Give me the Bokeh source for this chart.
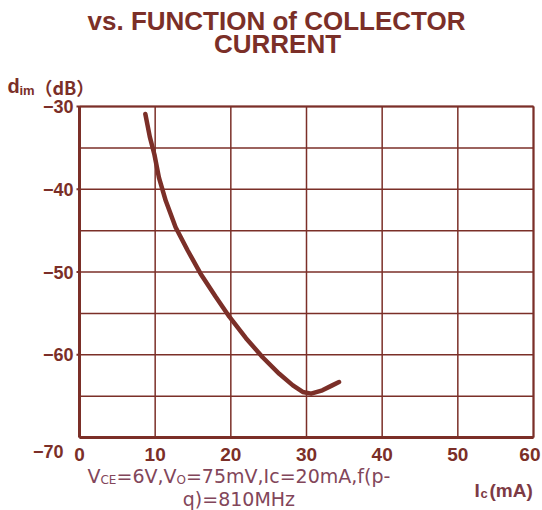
from bokeh.plotting import figure
from bokeh.models import Range1d
from bokeh.core.properties import value
from bokeh.embed import file_html
from bokeh.resources import INLINE

# ---------------- data ----------------
title_lines = ["vs. FUNCTION of COLLECTOR", "CURRENT"]
ic_ma = [8.7, 9.3, 9.9, 10.5, 11.4, 12.7, 14.3, 16.0, 18.0, 19.8, 22.0, 24.2,
         26.4, 28.2, 29.5, 30.6, 32.1, 33.4, 34.3]
dim_db = [-30.9, -33.7, -35.8, -38.6, -41.4, -44.6, -47.4, -50.2, -53.0, -55.4,
          -58.0, -60.3, -62.3, -63.7, -64.5, -64.7, -64.3, -63.7, -63.3]
x_ticks = [0, 10, 20, 30, 40, 50, 60]
x_tick_labels = ["0", "10", "20", "30", "40", "50", "60"]
y_ticks = [-70, -65, -60, -55, -50, -45, -40, -35, -30]
y_label_ticks = [-30, -40, -50, -60]
y_label_texts = ["\u221230", "\u221240", "\u221250", "\u221260"]
y_low_label = "\u221270"
y_title = ["d", "im", "\uff08dB\uff09"]
x_title = ["I", "c", "(mA)"]
cond_line1 = [("V", False), ("CE", True), ("=6V,V", False), ("O", True),
              ("=75mV,Ic=20mA,f(p-", False)]
cond_line2 = "q)=810MHz"

# ---------------- layout / style ----------------
MAIN = "#7b2f28"
NOTE = "#82465a"
XT = "#7d3a45"
W, H = 542, 510                 # canvas
FL, FT = 79, 106                # plot area left / top (canvas px)
FW, FH = 454, 331               # plot area size
X0, X1, Y0, Y1 = 0, 60, -70, -30
SX = FW / (X1 - X0)             # px per x unit
SY = FH / (Y1 - Y0)             # px per y unit

xr = Range1d(X0 - FL / SX, X0 + (W - FL) / SX)
yr = Range1d(Y1 - (H - FT) / SY, Y1 + FT / SY)

def fx(px):       # px to the right of plot-area left
    return X0 + px / SX

def fy_top(px):   # px above plot-area top
    return Y1 + px / SY

def fy_bot(px):   # px below plot-area bottom
    return Y0 - px / SY

# DejaVu Sans advance widths (per 1000 em) for the note text
DJV = {"V": 684, "C": 698, "E": 632, "=": 838, "6": 636, ",": 318, "O": 787,
       "7": 636, "5": 636, "m": 974, "I": 295, "c": 550, "2": 636, "0": 636,
       "A": 684, "f": 352, "(": 390, "p": 635, "-": 361, "q": 635, ")": 390,
       "8": 636, "1": 636, "M": 863, "H": 752, "z": 525}

def tw(s, size):
    return sum(DJV.get(ch, 600) for ch in s) * size / 1000.0

p = figure(width=W, height=H, x_range=xr, y_range=yr,
           min_border=0, output_backend="svg", toolbar_location=None)
p.axis.visible = False
p.grid.visible = False
p.outline_line_color = None
p.background_fill_color = "white"
p.border_fill_color = "white"

# grid lines
p.segment(x0=x_ticks, y0=[Y0] * len(x_ticks), x1=x_ticks, y1=[Y1] * len(x_ticks),
          line_color=MAIN, line_width=1.5)
p.segment(x0=[X0] * len(y_ticks), y0=y_ticks, x1=[X1] * len(y_ticks), y1=y_ticks,
          line_color=MAIN, line_width=1.5)
# frame
p.segment(x0=[X0, X1], y0=[Y1, Y1], x1=[X1, X1], y1=[Y1, Y0],
          line_color=MAIN, line_width=2)
p.segment(x0=[X0, X0], y0=[Y0, Y0], x1=[X0, X1], y1=[Y1, Y0],
          line_color=MAIN, line_width=3)
# y tick marks
p.segment(x0=[fx(-3)] * len(y_label_ticks), y0=y_label_ticks,
          x1=[X0] * len(y_label_ticks), y1=y_label_ticks,
          line_color=MAIN, line_width=2)

# curve
p.line(ic_ma, dim_db, line_color=MAIN, line_width=4.5,
       line_cap="round", line_join="round")

def txt(xs, ys, texts, size, color=MAIN, bold=True, align="left",
        font="Liberation Sans"):
    # ys are baselines; place with 'middle' (centre of the em box)
    ym = [y + 0.35 * size / SY for y in ys]
    p.text(x=xs, y=ym, text=texts, text_font=value(font),
           text_font_size=value(f"{size}px"),
           text_font_style="bold" if bold else "normal",
           text_color=color, text_align=align, text_baseline="middle")

# x tick labels
txt(x_ticks[:-1], [fy_bot(24)] * (len(x_ticks) - 1), x_tick_labels[:-1], 19,
    align="center")
txt([x_ticks[-1] + 7 / SX], [fy_bot(24)], [x_tick_labels[-1]], 19,
    align="right")

# y tick labels
txt([fx(-6)] * len(y_label_ticks), [t - 6.5 / SY for t in y_label_ticks],
    y_label_texts, 18, align="right")
txt([fx(-16)], [fy_bot(20)], [y_low_label], 18, align="right")

# title
txt([fx(197)], [fy_top(76)], [title_lines[0]], 26, align="center")
txt([fx(198)], [fy_top(53)], [title_lines[1]], 26, align="center")

# y axis title: d_im (dB)
txt([fx(-72)], [fy_top(14)], [y_title[0]], 20)
txt([fx(-60)], [fy_top(11)], [y_title[1]], 13)
txt([fx(-45)], [fy_top(13)], [y_title[2]], 18, font="Noto Sans CJK SC")

# x axis title: I_C (mA)
txt([fx(395)], [fy_bot(60)], [x_title[0]], 19, color=XT)
txt([fx(401)], [fy_bot(61)], [x_title[1]], 13, color=XT)
txt([fx(410)], [fy_bot(60)], [x_title[2]], 19, color=XT)

# measurement conditions
NS, SS = 19, 12
start = 8.0
cur = start
for t, sub in cond_line1:
    size = SS if sub else NS
    txt([fx(cur)], [fy_bot(47 if sub else 45)], [t], size, color=NOTE,
        bold=False, font="DejaVu Sans")
    cur += tw(t, size)
center1 = (start + cur) / 2.0
txt([fx(center1)], [fy_bot(68)], [cond_line2], NS, color=NOTE, bold=False,
    align="center", font="DejaVu Sans")

open("out.html", "w").write(file_html(p, INLINE))
